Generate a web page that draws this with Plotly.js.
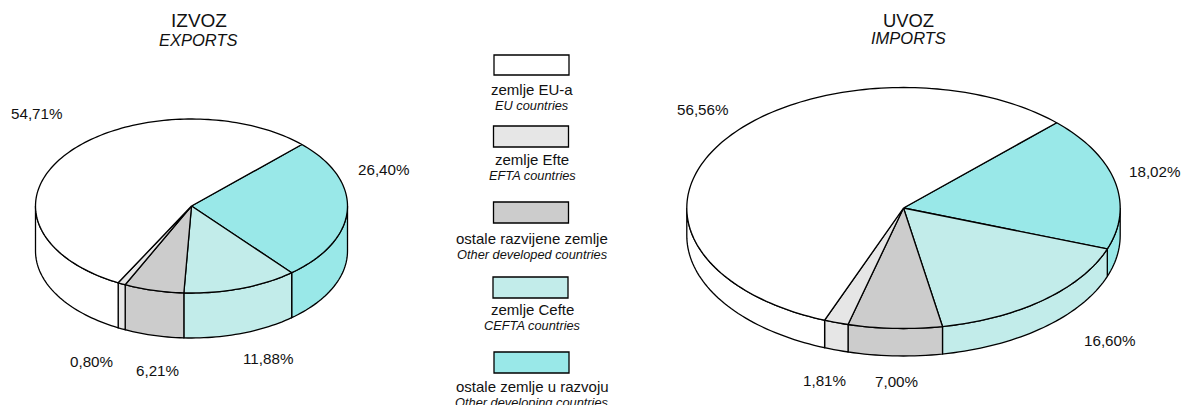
<!DOCTYPE html>
<html>
<head>
<meta charset="utf-8">
<script src="https://cdn.plot.ly/plotly-3.0.1.min.js"></script>
<style>html,body{margin:0;padding:0;background:#fff;overflow:hidden}</style>
</head>
<body>
<div id="chart" style="width:1182px;height:405px"></div>
<script>
// Data (clockwise from the 45° start, same order in both pies)
const sliceOrder = [4, 3, 2, 1, 0];
const categoriesHr = ['zemlje EU-a', 'zemlje Efte', 'ostale razvijene zemlje', 'zemlje Cefte', 'ostale zemlje u razvoju'];
const categoriesEn = ['EU countries', 'EFTA countries', 'Other developed countries', 'CEFTA countries', 'Other developing countries'];
const exportsShare = [54.71, 0.80, 6.21, 11.88, 26.40];
const importsShare = [56.56, 1.81, 7.00, 16.60, 18.02];
const colors = ['#ffffff', '#e6e6e6', '#cccccc', '#c2ecea', '#99e8e8'];

// Layout helpers (pixel-scaled axes)
const pies = [
  {title: 'IZVOZ', sub: 'EXPORTS', values: exportsShare, cx: 191.5, cy: 206, rx: 156, ry: 87, depth: 45, tx: 198.5, ty1: 20, ty2: 40,
   lx: [37, 91, 157, 268, 384], ly: [113, 361, 370, 358, 169]},
  {title: 'UVOZ', sub: 'IMPORTS', values: importsShare, cx: 903.5, cy: 208, rx: 216.7, ry: 120.5, depth: 27.5, tx: 908.5, ty1: 20, ty2: 38,
   lx: [703, 824, 896, 1110, 1155], ly: [109, 380, 381, 340, 171]}
];
const swatches = [[494, 55, 569, 75], [493.5, 126, 568.5, 147], [493.5, 202, 568.5, 223], [493, 277, 568, 298], [494, 352, 569, 373]];
const legendY = [[89, 105], [159, 175], [238, 254], [309, 325], [386, 402]];
const START = 45;
const EDGE = {color: '#000', width: 1.3};
const rad = d => d * Math.PI / 180;
const fmt = v => v.toFixed(2).replace('.', ',') + '%';

const traces = [];
function poly(xs, ys, fill) {
  traces.push({type: 'scatter', mode: 'lines', x: xs, y: ys, fill: 'toself', fillcolor: fill,
    line: {color: EDGE.color, width: EDGE.width, simplify: false}, hoverinfo: 'skip', showlegend: false});
}
function arc(p, a1, a2, dz) {
  const n = Math.max(2, Math.ceil(Math.abs(a2 - a1) / 1.5));
  const xs = [], ys = [];
  for (let i = 0; i <= n; i++) {
    const a = rad(a1 + (a2 - a1) * i / n);
    xs.push(p.cx + p.rx * Math.cos(a));
    ys.push(p.cy - p.ry * Math.sin(a) + dz);
  }
  return [xs, ys];
}
pies.forEach(p => {
  const wedges = [];
  let a = START;
  sliceOrder.forEach(i => {
    const a2 = a - p.values[i] * 3.6;
    wedges.push({i, a1: a, a2});
    a = a2;
  });
  // side walls: only the front half (-180..0) is visible
  wedges.forEach(w => {
    const segs = [[w.a1, w.a2], [w.a1 + 360, w.a2 + 360]];
    segs.forEach(([s, e]) => {
      const hi = Math.min(s, 0), lo = Math.max(e, -180);
      if (hi <= lo) return;
      const t = arc(p, hi, lo, 0), b = arc(p, lo, hi, p.depth);
      poly(t[0].concat(b[0], [t[0][0]]), t[1].concat(b[1], [t[1][0]]), colors[w.i]);
    });
  });
  // top faces
  wedges.forEach(w => {
    const t = arc(p, w.a1, w.a2, 0);
    poly([p.cx].concat(t[0], [p.cx]), [p.cy].concat(t[1], [p.cy]), colors[w.i]);
  });
});

const FONT = 'Liberation Sans, Arial, sans-serif';
const annotations = [];
function label(x, y, text, size, italic) {
  annotations.push({xref: 'x', yref: 'y', x, y, text, showarrow: false, xanchor: 'center', yanchor: 'middle',
    font: {family: FONT, size, color: '#111', style: italic ? 'italic' : 'normal'}});
}
pies.forEach((p, k) => {
  label(p.tx, p.ty1, p.title, k ? 18.4 : 19, false);
  label(p.tx, p.ty2, p.sub, 16.5, true);
  p.values.forEach((v, i) => label(p.lx[i], p.ly[i], fmt(v), 15.2, false));
});
categoriesHr.forEach((c, i) => {
  label(532, legendY[i][0], c, 15, false);
  label(532, legendY[i][1], categoriesEn[i], 12.8, true);
});
const shapes = swatches.map((s, i) => ({type: 'rect', xref: 'x', yref: 'y', x0: s[0], y0: s[1], x1: s[2], y1: s[3],
  fillcolor: colors[i], line: {color: '#000', width: 1.3}}));

Plotly.newPlot('chart', traces, {
  width: 1182, height: 405,
  margin: {l: 0, r: 0, t: 0, b: 0},
  paper_bgcolor: '#fff', plot_bgcolor: '#fff',
  xaxis: {range: [0, 1182], visible: false, fixedrange: true},
  yaxis: {range: [405, 0], visible: false, fixedrange: true},
  showlegend: false, shapes, annotations
}, {staticPlot: true, displayModeBar: false});
</script>
</body>
</html>
